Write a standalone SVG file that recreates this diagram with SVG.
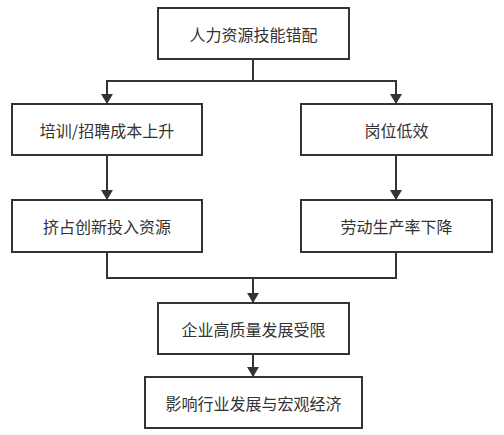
<svg xmlns="http://www.w3.org/2000/svg" width="504" height="435" viewBox="0 0 504 435">
<defs>
<marker id="ah" viewBox="0 0 10 12" refX="10" refY="6" markerWidth="10" markerHeight="12" markerUnits="userSpaceOnUse" orient="auto">
<path d="M0,0 L10,6 L0,12 Z" fill="#333"/>
</marker>
<style>
.box{fill:#fff;stroke:#333;stroke-width:2}
.t{font-family:"Noto Sans CJK SC","Noto Sans",sans-serif;font-size:16px;fill:#333;text-anchor:middle;dominant-baseline:central}
.c{fill:none;stroke:#333;stroke-width:2}
</style>
</defs>
<rect width="504" height="435" fill="#fff"/>
<g id="connectors">
<path class="c" d="M253,59 V81 H107 V104" marker-end="url(#ah)"/>
<path class="c" d="M253,81 H396 V104" marker-end="url(#ah)"/>
<path class="c" d="M107,155 V200" marker-end="url(#ah)"/>
<path class="c" d="M396,155 V200" marker-end="url(#ah)"/>
<path class="c" d="M107,252 V278 H253 V303" marker-end="url(#ah)"/>
<path class="c" d="M396,252 V278 H253"/>
<path class="c" d="M253,354 V377" marker-end="url(#ah)"/>
</g>
<g id="n1"><rect class="box" x="158" y="8" width="191" height="51"/><text class="t" x="253.5" y="34">人力资源技能错配</text></g>
<g id="n2"><rect class="box" x="12" y="104" width="190" height="51"/><text class="t" x="107" y="130">培训/招聘成本上升</text></g>
<g id="n3"><rect class="box" x="301" y="104" width="191" height="51"/><text class="t" x="396.5" y="130">岗位低效</text></g>
<g id="n4"><rect class="box" x="12" y="200" width="190" height="52"/><text class="t" x="107" y="226">挤占创新投入资源</text></g>
<g id="n5"><rect class="box" x="301" y="200" width="191" height="52"/><text class="t" x="396.5" y="226">劳动生产率下降</text></g>
<g id="n6"><rect class="box" x="158" y="303" width="191" height="51"/><text class="t" x="253.5" y="329">企业高质量发展受限</text></g>
<g id="n7"><rect class="box" x="145" y="377" width="217" height="51"/><text class="t" x="253.5" y="403">影响行业发展与宏观经济</text></g>
</svg>
